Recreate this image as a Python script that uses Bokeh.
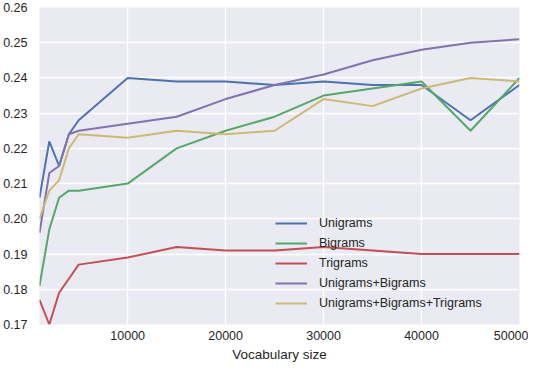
from bokeh.plotting import figure
from bokeh.embed import file_html
from bokeh.resources import INLINE
from bokeh.models import Range1d, FixedTicker, NumeralTickFormatter, Legend, LegendItem

vocab = [1000, 2000, 3000, 4000, 5000, 10000, 15000, 20000, 25000, 30000, 35000, 40000, 45000, 50000]
unigrams = [0.206, 0.222, 0.215, 0.224, 0.228, 0.240, 0.239, 0.239, 0.238, 0.239, 0.238, 0.238, 0.228, 0.238]
bigrams = [0.181, 0.197, 0.206, 0.208, 0.208, 0.210, 0.220, 0.225, 0.229, 0.235, 0.237, 0.239, 0.225, 0.240]
trigrams = [0.177, 0.170, 0.179, 0.183, 0.187, 0.189, 0.192, 0.191, 0.191, 0.192, 0.191, 0.190, 0.190, 0.190]
uni_bi = [0.196, 0.213, 0.215, 0.224, 0.225, 0.227, 0.229, 0.234, 0.238, 0.241, 0.245, 0.248, 0.250, 0.251]
uni_bi_tri = [0.200, 0.208, 0.211, 0.220, 0.224, 0.223, 0.225, 0.224, 0.225, 0.234, 0.232, 0.237, 0.240, 0.239]

series_names = ["Unigrams", "Bigrams", "Trigrams", "Unigrams+Bigrams", "Unigrams+Bigrams+Trigrams"]
series_values = [unigrams, bigrams, trigrams, uni_bi, uni_bi_tri]
colors = ["#4C72B0", "#55A868", "#C44E52", "#8172B2", "#CCB974"]

y_ticks = [0.17, 0.18, 0.19, 0.20, 0.21, 0.22, 0.23, 0.24, 0.25, 0.26]
x_ticks = [10000, 20000, 30000, 40000, 50000]

FONT = "Liberation Sans"
TXT = "#262626"

p = figure(width=528, height=364, output_backend="svg", toolbar_location=None,
           x_range=Range1d(1000, 50000), y_range=Range1d(0.17, 0.26),
           min_border_left=39, min_border_right=9, min_border_top=7, min_border_bottom=40)
p.background_fill_color = "#EAEAF2"
p.border_fill_color = "white"
p.outline_line_color = None

renderers = []
for name, vals, c in zip(series_names, series_values, colors):
    r = p.line(vocab, vals, line_color=c, line_width=2)
    renderers.append((name, r))

p.xaxis.ticker = FixedTicker(ticks=x_ticks)
p.yaxis.ticker = FixedTicker(ticks=y_ticks)
p.xaxis.formatter = NumeralTickFormatter(format="0")
p.yaxis.formatter = NumeralTickFormatter(format="0.00")
for ax in (p.xaxis, p.yaxis):
    ax.axis_line_color = None
    ax.major_tick_line_color = None
    ax.minor_tick_line_color = None
    ax.major_tick_out = 0
    ax.major_tick_in = 0
    ax.minor_tick_out = 0
    ax.major_label_text_font = FONT
    ax.major_label_text_font_size = "12.5px"
    ax.major_label_text_color = TXT
p.yaxis.major_label_standoff = 12
p.xaxis.major_label_standoff = 6
p.xaxis.axis_label = "Vocabulary size"
p.xaxis.axis_label_text_font = FONT
p.xaxis.axis_label_text_font_size = "13.5px"
p.xaxis.axis_label_text_font_style = "normal"
p.xaxis.axis_label_text_color = TXT
p.xaxis.axis_label_standoff = 4

p.xgrid.grid_line_color = "white"
p.ygrid.grid_line_color = "white"
p.xgrid.grid_line_width = 1.3
p.ygrid.grid_line_width = 1.3

legend = Legend(items=[LegendItem(label=n, renderers=[r]) for n, r in renderers],
                location=(236, 11), padding=0, margin=0, spacing=0,
                glyph_width=32, glyph_height=20, label_height=20, label_standoff=12,
                label_text_font=FONT, label_text_font_size="12.5px", label_text_color=TXT,
                background_fill_alpha=0, border_line_color=None)
p.add_layout(legend, "center")

open("out.html", "w").write(file_html(p, INLINE))
